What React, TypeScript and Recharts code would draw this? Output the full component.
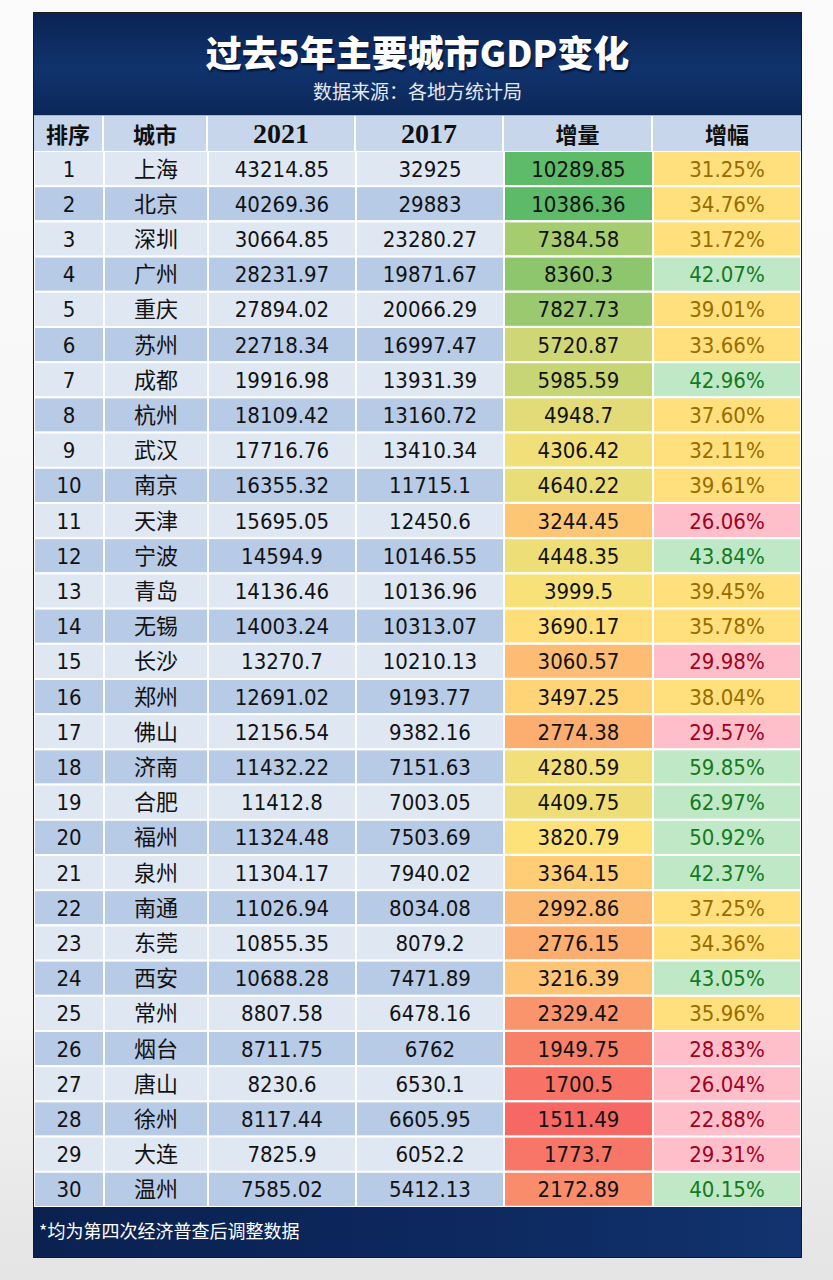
import React from "react";
import { Bar, BarChart, XAxis, YAxis } from "recharts";

const ranks = [1, 2, 3, 4, 5, 6, 7, 8, 9, 10, 11, 12, 13, 14, 15, 16, 17, 18, 19, 20, 21, 22, 23, 24, 25, 26, 27, 28, 29, 30];
const cities = ["上海", "北京", "深圳", "广州", "重庆", "苏州", "成都", "杭州", "武汉", "南京", "天津", "宁波", "青岛", "无锡", "长沙", "郑州", "佛山", "济南", "合肥", "福州", "泉州", "南通", "东莞", "西安", "常州", "烟台", "唐山", "徐州", "大连", "温州"];
const gdp2021 = [43214.85, 40269.36, 30664.85, 28231.97, 27894.02, 22718.34, 19916.98, 18109.42, 17716.76, 16355.32, 15695.05, 14594.9, 14136.46, 14003.24, 13270.7, 12691.02, 12156.54, 11432.22, 11412.8, 11324.48, 11304.17, 11026.94, 10855.35, 10688.28, 8807.58, 8711.75, 8230.6, 8117.44, 7825.9, 7585.02];
const gdp2017 = [32925, 29883, 23280.27, 19871.67, 20066.29, 16997.47, 13931.39, 13160.72, 13410.34, 11715.1, 12450.6, 10146.55, 10136.96, 10313.07, 10210.13, 9193.77, 9382.16, 7151.63, 7003.05, 7503.69, 7940.02, 8034.08, 8079.2, 7471.89, 6478.16, 6762, 6530.1, 6605.95, 6052.2, 5412.13];
const increase = [10289.85, 10386.36, 7384.58, 8360.3, 7827.73, 5720.87, 5985.59, 4948.7, 4306.42, 4640.22, 3244.45, 4448.35, 3999.5, 3690.17, 3060.57, 3497.25, 2774.38, 4280.59, 4409.75, 3820.79, 3364.15, 2992.86, 2776.15, 3216.39, 2329.42, 1949.75, 1700.5, 1511.49, 1773.7, 2172.89];
const growth = [31.25, 34.76, 31.72, 42.07, 39.01, 33.66, 42.96, 37.6, 32.11, 39.61, 26.06, 43.84, 39.45, 35.78, 29.98, 38.04, 29.57, 59.85, 62.97, 50.92, 42.37, 37.25, 34.36, 43.05, 35.96, 28.83, 26.04, 22.88, 29.31, 40.15];
const headers = ["排序", "城市", "2021", "2017", "增量", "增幅"];

const rows = ranks.map((rank, i) => ({
  rank,
  city: cities[i],
  gdp2021: gdp2021[i],
  gdp2017: gdp2017[i],
  increase: increase[i],
  growth: growth[i],
}));

const COL_W = [70, 104, 148, 148, 149, 148];
const CHART_W = 767;
const CHART_H = 1056;
const ROW_H = CHART_H / rows.length;
const BASE = 8; // baseline offset from row centre for 22px text

const NUM_FONT = '"DejaVu Sans Condensed", "DejaVu Sans", sans-serif';
const CJK_FONT = '"Noto Sans CJK SC", sans-serif';

const rowFill = (i: number) => (i % 2 === 0 ? "#dfe7f3" : "#b7cae6");

// three-colour scale like a spreadsheet: red (min) -> yellow (median) -> green (max)
const sorted = [...increase].sort((a, b) => a - b);
const incMin = sorted[0];
const incMax = sorted[sorted.length - 1];
const incMid = (sorted[14] + sorted[15]) / 2;
const RED = [247, 104, 100];
const YEL = [255, 226, 122];
const GRN = [92, 186, 104];
const mix = (a: number[], b: number[], t: number) =>
  `rgb(${a.map((v, k) => Math.round(v + (b[k] - v) * t)).join(",")})`;
const incColor = (v: number) =>
  v <= incMid ? mix(RED, YEL, (v - incMin) / (incMid - incMin)) : mix(YEL, GRN, (v - incMid) / (incMax - incMid));

const growthStyle = (v: number) => {
  if (v >= 40) return { fill: "#bfe8c6", text: "#137a1e" };
  if (v < 30) return { fill: "#ffbfca", text: "#a3001e" };
  return { fill: "#ffe07c", text: "#9a6c00" };
};

type TickProps = { x: number; y: number; payload: { index: number } };

const leftCell = (w: number, text: (i: number) => string, font: string) => (props: TickProps) => {
  const { x, y, payload } = props;
  const i = payload.index;
  return (
    <g>
      <rect x={x - w} y={y - ROW_H / 2} width={w} height={ROW_H} fill={rowFill(i)} stroke="#ffffff" strokeWidth={2} />
      <text x={x - w / 2} y={y + BASE} textAnchor="middle" fontSize={22} fontFamily={font} fill="#121212">
        {text(i)}
      </text>
    </g>
  );
};

const growthCell = (props: TickProps) => {
  const { x, y, payload } = props;
  const v = growth[payload.index];
  const s = growthStyle(v);
  const w = COL_W[5];
  return (
    <g>
      <rect x={x} y={y - ROW_H / 2} width={w} height={ROW_H} fill={s.fill} stroke="#ffffff" strokeWidth={2} />
      <text x={x + w / 2} y={y + BASE} textAnchor="middle" fontSize={22} fontFamily={NUM_FONT} fill={s.text}>
        {v.toFixed(2)}%
      </text>
    </g>
  );
};

const IncreaseCell = (props: any) => {
  const { y, height, payload, background } = props;
  const x = background?.x ?? props.x;
  const w = background?.width ?? COL_W[4];
  return (
    <g>
      <rect x={x} y={y} width={w} height={height} fill={incColor(payload.increase)} stroke="#ffffff" strokeWidth={2} />
      <text x={x + w / 2} y={y + height / 2 + BASE} textAnchor="middle" fontSize={22} fontFamily={NUM_FONT} fill="#121212">
        {payload.increase}
      </text>
    </g>
  );
};

const axisCommon = {
  type: "category" as const,
  dataKey: "rank",
  tickLine: false,
  axisLine: false,
  tickSize: 0,
  tickMargin: 0,
  interval: 0 as const,
};

export default function App() {
  return (
    <div
      style={{
        position: "absolute",
        left: 0,
        top: 0,
        width: 833,
        height: 1280,
        background: "linear-gradient(180deg, #fbfbfb 0%, #f3f3f3 80%, #e4e4e4 100%)",
      }}
    >
      <div
        style={{
          position: "absolute",
          left: 33,
          top: 12,
          width: CHART_W,
          border: "1px solid #1a1a1a",
          background: "#0c2a5c",
        }}
      >
        <div
          style={{
            position: "relative",
            height: 102,
            background: "linear-gradient(180deg, #0a2454 0%, #10336d 55%, #0b2758 100%)",
            textAlign: "center",
            color: "#ffffff",
            fontFamily: CJK_FONT,
            overflow: "hidden",
          }}
        >
          <div
            style={{
              position: "absolute",
              left: 0,
              right: 0,
              top: 18,
              fontSize: 36,
              fontWeight: 900,
              lineHeight: "40px",
              textShadow: "1px 2px 2px #00102e",
            }}
          >
            过去5年主要城市GDP变化
          </div>
          <div
            style={{ position: "absolute", left: 0, right: 0, top: 67, fontSize: 19, lineHeight: "22px", color: "#e4e9f3" }}
          >
            数据来源：各地方统计局
          </div>
        </div>
        <div style={{ display: "flex", height: 35, background: "#c8d6eb", borderTop: "1px solid #9fb3d6" }}>
          {headers.map((h, i) => (
            <div
              key={h}
              style={{
                width: COL_W[i],
                boxSizing: "border-box",
                borderRight: i < headers.length - 1 ? "2px solid #ffffff" : "none",
                textAlign: "center",
                lineHeight: "35px",
                fontWeight: 700,
                color: "#101010",
                fontFamily: i === 2 || i === 3 ? '"Liberation Serif", serif' : CJK_FONT,
                fontSize: i === 2 || i === 3 ? 28 : 22,
              }}
            >
              {h}
            </div>
          ))}
        </div>
        <div style={{ background: "#ffffff", lineHeight: 0 }}>
          <BarChart
            layout="vertical"
            width={CHART_W}
            height={CHART_H}
            data={rows}
            margin={{ top: 0, right: 0, bottom: 0, left: 0 }}
            barCategoryGap={0}
          >
            <XAxis type="number" hide domain={[0, "dataMax"]} />
            {/* left axes stack outward in id order: a (next to the bars) ... d (outermost) */}
            <YAxis {...axisCommon} yAxisId="d_rank" width={COL_W[0]} tick={leftCell(COL_W[0], (i) => String(ranks[i]), NUM_FONT)} />
            <YAxis {...axisCommon} yAxisId="c_city" width={COL_W[1]} tick={leftCell(COL_W[1], (i) => cities[i], CJK_FONT)} />
            <YAxis {...axisCommon} yAxisId="b_y21" width={COL_W[2]} tick={leftCell(COL_W[2], (i) => String(gdp2021[i]), NUM_FONT)} />
            <YAxis {...axisCommon} yAxisId="a_y17" width={COL_W[3]} tick={leftCell(COL_W[3], (i) => String(gdp2017[i]), NUM_FONT)} />
            <YAxis {...axisCommon} yAxisId="e_growth" orientation="right" width={COL_W[5]} tick={growthCell} />
            <Bar dataKey="increase" yAxisId="d_rank" isAnimationActive={false} shape={<IncreaseCell />} />
          </BarChart>
        </div>
        <div
          style={{
            height: 50,
            background: "linear-gradient(90deg, #0a2150 0%, #0d2960 60%, #12336f 100%)",
            color: "#ffffff",
            fontFamily: CJK_FONT,
            fontSize: 18,
            lineHeight: "46px",
            paddingLeft: 5,
            boxSizing: "border-box",
          }}
        >
          *均为第四次经济普查后调整数据
        </div>
      </div>
    </div>
  );
}
